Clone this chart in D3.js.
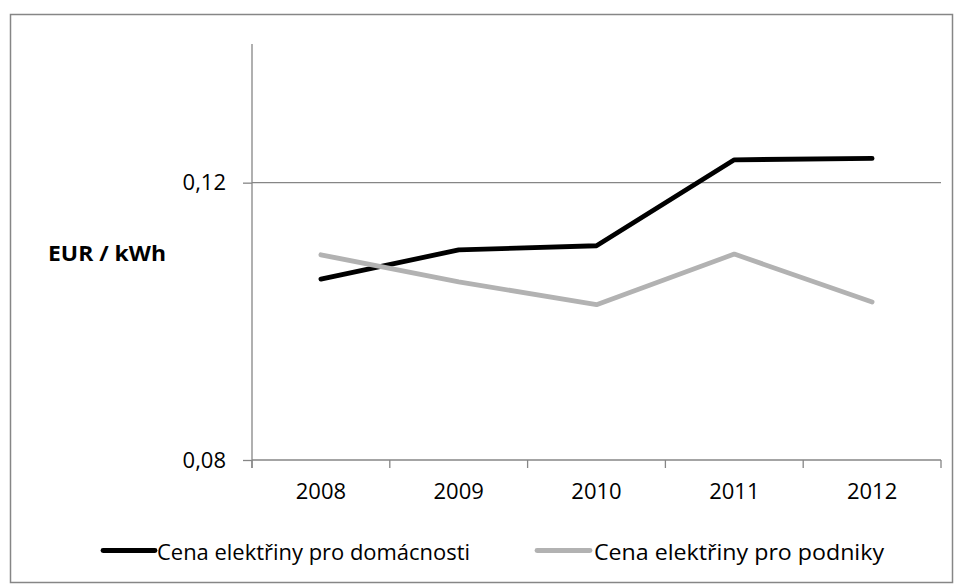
<!DOCTYPE html>
<html>
<head>
<meta charset="utf-8">
<script src="https://cdn.jsdelivr.net/npm/d3@7"></script>
<style>
  html, body { margin: 0; padding: 0; background: #fff; }
  svg text { font-family: "Open Sans", "Noto Sans", sans-serif; fill: #000; }
</style>
</head>
<body>
<svg id="chart" width="955" height="585"></svg>
<script>
// Electricity prices, EUR per kWh
const years = ["2008", "2009", "2010", "2011", "2012"];
const households = [0.1061, 0.1103, 0.1109, 0.1233, 0.1235];
const businesses = [0.1096, 0.1057, 0.1024, 0.1097, 0.1028];
const yTicks = [0.08, 0.12];
const seriesNames = ["Cena elektřiny pro domácnosti", "Cena elektřiny pro podniky"];
const seriesColors = ["#000000", "#b2b2b2"];
const axisLabel = "EUR / kWh";

const svg = d3.select("#chart");
const axisColor = "#868686";
const fontSize = 22;

// outer frame
svg.append("rect")
  .attr("x", 10.5).attr("y", 14.5)
  .attr("width", 942).attr("height", 568)
  .attr("fill", "none").attr("stroke", axisColor).attr("stroke-width", 1.5);

const plot = { left: 252, right: 941, top: 44, bottom: 460 };

const x = d3.scaleBand().domain(years).range([plot.left, plot.right]);
const y = d3.scaleLinear().domain([0.08, 0.14]).range([plot.bottom, plot.top]);

// horizontal gridlines (above the baseline)
svg.append("g").selectAll("line")
  .data(yTicks.filter(t => t > 0.08))
  .join("line")
  .attr("x1", plot.left).attr("x2", plot.right)
  .attr("y1", d => y(d)).attr("y2", d => y(d))
  .attr("stroke", axisColor).attr("stroke-width", 1.3);

// y axis
const yAxis = svg.append("g")
  .attr("transform", `translate(${plot.left},0)`)
  .call(d3.axisLeft(y).tickValues(yTicks).tickSize(9).tickPadding(17)
    .tickFormat(d => d3.format(".2f")(d).replace(".", ",")));
yAxis.select(".domain").remove();
yAxis.append("line")
  .attr("x1", 0).attr("x2", 0)
  .attr("y1", plot.top).attr("y2", plot.bottom + 8);
yAxis.selectAll("line").attr("stroke", axisColor).attr("stroke-width", 1.3);
yAxis.selectAll("text")
  .attr("font-size", fontSize).attr("fill", "#000")
  .style("font-family", "'Open Sans', sans-serif");

// x axis with ticks on category boundaries
const xAxis = svg.append("g")
  .attr("transform", `translate(0,${plot.bottom})`)
  .call(d3.axisBottom(x).tickSize(0).tickPadding(23));
xAxis.select(".domain").remove();
xAxis.append("line")
  .attr("x1", plot.left).attr("x2", plot.right)
  .attr("stroke", axisColor).attr("stroke-width", 1.3);
const boundaries = years.map(d => x(d) + x.bandwidth()).concat([plot.left]);
xAxis.selectAll(".bound")
  .data(boundaries)
  .join("line")
  .attr("class", "bound")
  .attr("x1", d => d).attr("x2", d => d)
  .attr("y1", 0).attr("y2", 8)
  .attr("stroke", axisColor).attr("stroke-width", 1.3);
xAxis.selectAll("text")
  .attr("font-size", fontSize).attr("fill", "#000")
  .style("font-family", "'Open Sans', sans-serif");

// axis title
svg.append("text")
  .attr("x", 48).attr("y", 253)
  .attr("dominant-baseline", "central")
  .attr("font-size", 21).attr("font-weight", "bold")
  .attr("textLength", 118).attr("lengthAdjust", "spacingAndGlyphs")
  .text(axisLabel);

// series lines
const line = d3.line()
  .x((d, i) => x(years[i]) + x.bandwidth() / 2)
  .y(d => y(d));

[households, businesses].forEach((vals, k) => {
  svg.append("path")
    .datum(vals)
    .attr("d", line)
    .attr("fill", "none")
    .attr("stroke", seriesColors[k])
    .attr("stroke-width", 4.8)
    .attr("stroke-linejoin", "round")
    .attr("stroke-linecap", "round");
});

// legend
const legend = [
  { x1: 103, x2: 155, tx: 157, width: 313 },
  { x1: 537, x2: 590, tx: 594, width: 290 }
];
legend.forEach((l, k) => {
  svg.append("line")
    .attr("x1", l.x1).attr("x2", l.x2)
    .attr("y1", 550.5).attr("y2", 550.5)
    .attr("stroke", seriesColors[k]).attr("stroke-width", 4.8)
    .attr("stroke-linecap", "round");
  svg.append("text")
    .attr("x", l.tx).attr("y", 551)
    .attr("dominant-baseline", "central")
    .attr("font-size", fontSize)
    .attr("textLength", l.width).attr("lengthAdjust", "spacingAndGlyphs")
    .text(seriesNames[k]);
});
</script>
</body>
</html>
